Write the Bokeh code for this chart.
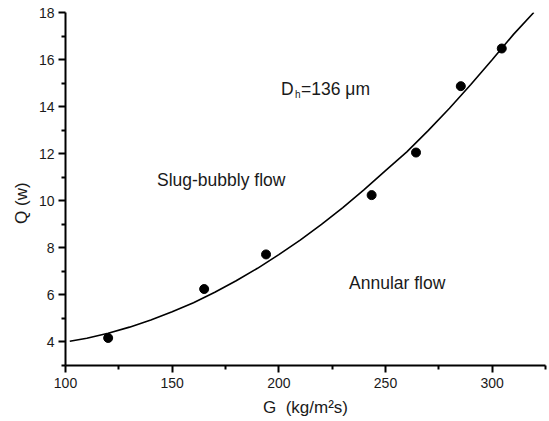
from bokeh.plotting import figure
from bokeh.models import Range1d, FixedTicker, Label
from bokeh.embed import file_html
from bokeh.resources import INLINE

# measured points
g_points = [120, 165, 194, 243.5, 264.3, 285.3, 304.5]
q_points = [4.17, 6.25, 7.72, 10.24, 12.05, 14.87, 16.47]

# fitted curve
fit_g = [102, 110, 120, 130, 140, 150, 160, 170, 180, 190, 200, 210, 220,
         230, 240, 250, 260, 270, 280, 290, 300, 310, 319.5]
fit_q = [4.03, 4.16, 4.37, 4.63, 4.93, 5.28, 5.67, 6.11, 6.60, 7.13, 7.71,
         8.33, 9.00, 9.71, 10.47, 11.28, 12.08, 12.98, 13.93, 14.94, 15.99,
         17.07, 18.0]

x_major = [100, 150, 200, 250, 300]
x_minor = [125, 175, 225, 275, 325]
y_major = [4, 6, 8, 10, 12, 14, 16, 18]
y_minor = [3, 5, 7, 9, 11, 13, 15, 17]

FONT = "Liberation Sans"
TXT = "#1a1a1a"

p = figure(width=549, height=421, output_backend="svg", toolbar_location=None,
           x_range=Range1d(100, 325), y_range=Range1d(3, 18),
           min_border_left=65, min_border_right=4, min_border_top=12,
           min_border_bottom=56)
p.outline_line_color = None
p.xgrid.visible = False
p.ygrid.visible = False
p.background_fill_color = "white"
p.border_fill_color = "white"

p.xaxis.ticker = FixedTicker(ticks=x_major, minor_ticks=x_minor)
p.yaxis.ticker = FixedTicker(ticks=y_major, minor_ticks=y_minor)

for ax in (p.xaxis, p.yaxis):
    ax.axis_line_width = 2
    ax.axis_line_color = "black"
    ax.major_tick_line_width = 2
    ax.minor_tick_line_width = 2
    ax.major_tick_line_color = "black"
    ax.minor_tick_line_color = "black"
    ax.major_tick_in = 0
    ax.minor_tick_in = 0
    ax.major_tick_out = 7
    ax.minor_tick_out = 4
    ax.major_label_text_font = FONT
    ax.major_label_text_font_size = "14px"
    ax.major_label_text_color = TXT
    ax.axis_label_text_font = FONT
    ax.axis_label_text_font_size = "17px"
    ax.axis_label_text_font_style = "normal"
    ax.axis_label_text_color = TXT

p.xaxis.major_label_standoff = 5
p.yaxis.major_label_standoff = 4
p.xaxis.axis_label = "G\u00a0\u00a0(kg/m\u00b2s)"
p.xaxis.axis_label_standoff = 7
# trailing no-break spaces push the visible text below the frame centre, as in the reference
p.yaxis.axis_label = "Q (w)" + "\u00a0" * 6
p.yaxis.axis_label_standoff = 5

p.line(fit_g, fit_q, line_color="black", line_width=1.6)
p.scatter(g_points, q_points, size=9, color="black")

p.add_layout(Label(x=142.9, y=10.87, text="Slug-bubbly flow",
                   text_font=FONT, text_font_size="17.5px", text_color=TXT,
                   text_baseline="alphabetic"))
p.add_layout(Label(x=232.9, y=6.50, text="Annular flow",
                   text_font=FONT, text_font_size="17.5px", text_color=TXT,
                   text_baseline="alphabetic"))
p.add_layout(Label(x=201.0, y=14.77, text="D",
                   text_font=FONT, text_font_size="17.5px", text_color=TXT,
                   text_baseline="alphabetic"))
p.add_layout(Label(x=207.6, y=14.53, text="h",
                   text_font=FONT, text_font_size="10px", text_color=TXT,
                   text_baseline="alphabetic"))
p.add_layout(Label(x=210.4, y=14.77, text="=136 \u03bcm",
                   text_font=FONT, text_font_size="17.5px", text_color=TXT,
                   text_baseline="alphabetic"))

open("out.html", "w").write(file_html(p, INLINE))
